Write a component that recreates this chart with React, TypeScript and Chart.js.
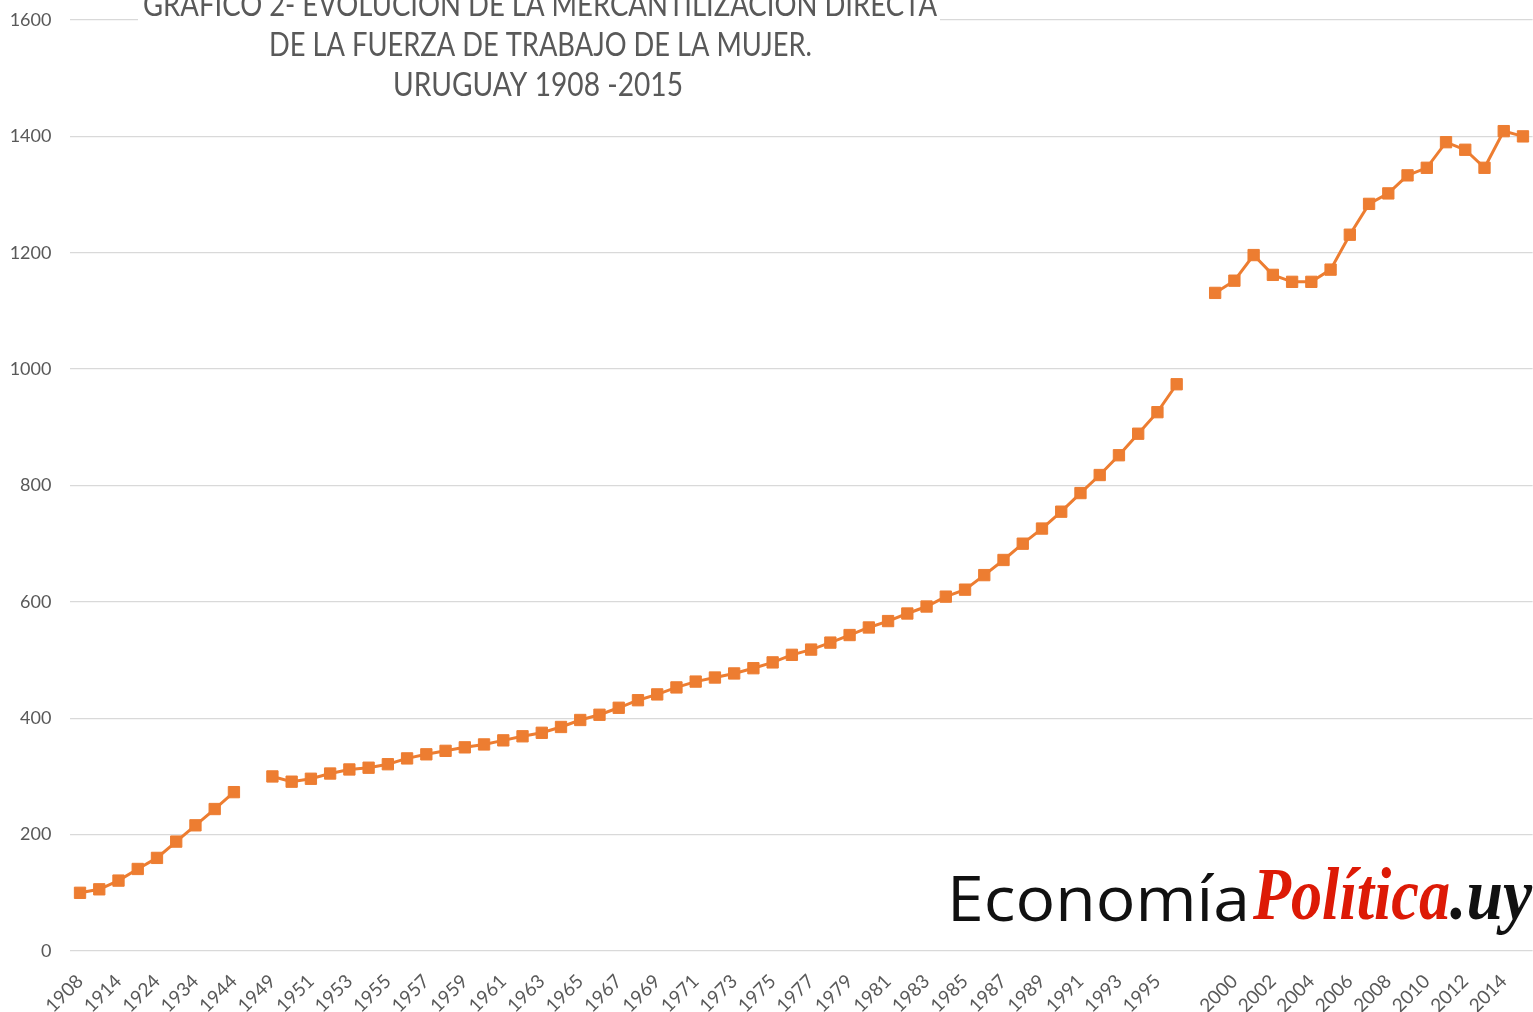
import React, { useEffect, useRef } from 'react';
import { Chart, registerables } from 'chart.js';

Chart.register(...registerables);

// ---- data ----
const earlyYears = ['1908', '1911', '1914', '1919', '1924', '1929', '1934', '1939', '1944'];
const earlyValues = [100, 106, 121, 141, 160, 188, 216, 244, 273];

const midYears = [
  '1949', '1950', '1951', '1952', '1953', '1954', '1955', '1956', '1957', '1958',
  '1959', '1960', '1961', '1962', '1963', '1964', '1965', '1966', '1967', '1968',
  '1969', '1970', '1971', '1972', '1973', '1974', '1975', '1976', '1977', '1978',
  '1979', '1980', '1981', '1982', '1983', '1984', '1985', '1986', '1987', '1988',
  '1989', '1990', '1991', '1992', '1993', '1994', '1995', '1996',
];
const midValues = [
  300, 291, 296, 305, 312, 315, 321, 331, 338, 344,
  350, 355, 362, 369, 375, 385, 397, 406, 418, 431,
  441, 453, 463, 470, 477, 486, 496, 509, 518, 530,
  543, 556, 567, 580, 592, 609, 621, 646, 672, 700,
  726, 755, 787, 818, 852, 889, 926, 974,
];

const lateYears = [
  '1999', '2000', '2001', '2002', '2003', '2004', '2005', '2006', '2007',
  '2008', '2009', '2010', '2011', '2012', '2013', '2014', '2015',
];
const lateValues = [
  1131, 1152, 1196, 1162, 1150, 1150, 1171, 1231, 1284,
  1302, 1333, 1346, 1390, 1377, 1346, 1409, 1400,
];

const categories = [...earlyYears, '', ...midYears, '', ...lateYears];
const seriesValues: (number | null)[] = [...earlyValues, null, ...midValues, null, ...lateValues];

const yMin = 0;
const yMax = 1600;
const yStep = 200;

const titleLines = [
  'GRÁFICO 2- EVOLUCIÓN DE LA MERCANTILIZACIÓN DIRECTA',
  'DE LA FUERZA DE TRABAJO DE LA MUJER.',
  'URUGUAY 1908 -2015',
];
const brandParts = ['Economía', 'Política', '.uy'];

const GREY = '#595959';
const ORANGE = '#ED7D31';

function fitText(
  ctx: CanvasRenderingContext2D,
  text: string,
  x: number,
  y: number,
  width: number,
  font: string,
  color: string,
  align: 'left' | 'center' = 'left'
) {
  ctx.save();
  ctx.font = font;
  const m = ctx.measureText(text).width || 1;
  const sx = width / m;
  ctx.translate(x, y);
  ctx.scale(sx, 1);
  ctx.fillStyle = color;
  ctx.textBaseline = 'alphabetic';
  ctx.textAlign = align;
  ctx.fillText(text, 0, 0);
  ctx.restore();
}

const overlayPlugin = {
  id: 'overlayText',
  afterDraw(chart: any) {
    const ctx: CanvasRenderingContext2D = chart.ctx;
    ctx.save();
    ctx.fillStyle = '#ffffff';
    ctx.fillRect(138, 0, 802, 104);
    ctx.restore();
    const titleFont = '400 32px Lato, "Liberation Sans", sans-serif';
    fitText(ctx, titleLines[0], 540, 16, 794, titleFont, GREY, 'center');
    fitText(ctx, titleLines[1], 540.5, 56, 543, titleFont, GREY, 'center');
    fitText(ctx, titleLines[2], 538, 96, 290, titleFont, GREY, 'center');

    fitText(ctx, brandParts[0], 947, 921, 303, '400 62px "Open Sans", "Noto Sans", sans-serif', '#111111');
    fitText(ctx, brandParts[1], 1253, 919, 197, 'italic 700 74px "Liberation Serif", "DejaVu Serif", serif', '#DD1A06');
    fitText(ctx, brandParts[2], 1450, 919, 82, 'italic 700 74px "Liberation Serif", "DejaVu Serif", serif', '#111111');
  },
};

export default function App() {
  const canvasRef = useRef<HTMLCanvasElement | null>(null);

  useEffect(() => {
    if (!canvasRef.current) return;
    const chart = new Chart(canvasRef.current, {
      type: 'line',
      data: {
        labels: categories,
        datasets: [
          {
            label: 'Mercantilización',
            data: seriesValues,
            borderColor: ORANGE,
            backgroundColor: ORANGE,
            borderWidth: 3,
            pointStyle: 'rect',
            pointRadius: 8,
            pointBackgroundColor: ORANGE,
            pointBorderColor: ORANGE,
            pointBorderWidth: 1,
            spanGaps: false,
            tension: 0,
            clip: false,
          },
        ],
      },
      options: {
        responsive: false,
        animation: false,
        layout: { autoPadding: false, padding: { top: 20, right: 0.4, left: 0, bottom: 0 } },
        plugins: {
          legend: { display: false },
          tooltip: { enabled: false },
          title: { display: false },
        },
        scales: {
          x: {
            type: 'category',
            offset: true,
            grid: { display: false, drawTicks: false },
            border: { display: false },
            ticks: {
              autoSkip: false,
              minRotation: 45,
              maxRotation: 45,
              padding: 19,
              color: GREY,
              font: { family: 'Lato, "Liberation Sans", sans-serif', size: 19 },
              callback: function (this: any, value: any, index: number) {
                return index % 2 === 0 ? this.getLabelForValue(value) : '';
              },
            },
            afterFit: (scale: any) => {
              scale.height = 61;
              scale.paddingRight = 0;
              scale.paddingLeft = 0;
            },
          },
          y: {
            min: yMin,
            max: yMax,
            grid: { color: '#D9D9D9', lineWidth: 1.3, drawTicks: false },
            border: { display: false },
            ticks: {
              stepSize: yStep,
              padding: 19,
              color: GREY,
              font: { family: 'Lato, "Liberation Sans", sans-serif', size: 18 },
              callback: (value: any) => String(value),
            },
            afterFit: (scale: any) => {
              scale.width = 70.4;
              scale.paddingTop = 0;
              scale.paddingBottom = 0;
            },
          },
        },
      },
      plugins: [overlayPlugin],
    });
    return () => chart.destroy();
  }, []);

  return (
    <div style={{ position: 'absolute', left: 0, top: 0, width: 1533, height: 1012, background: '#fff' }}>
      <canvas ref={canvasRef} width={1533} height={1012} style={{ display: 'block' }} />
    </div>
  );
}
